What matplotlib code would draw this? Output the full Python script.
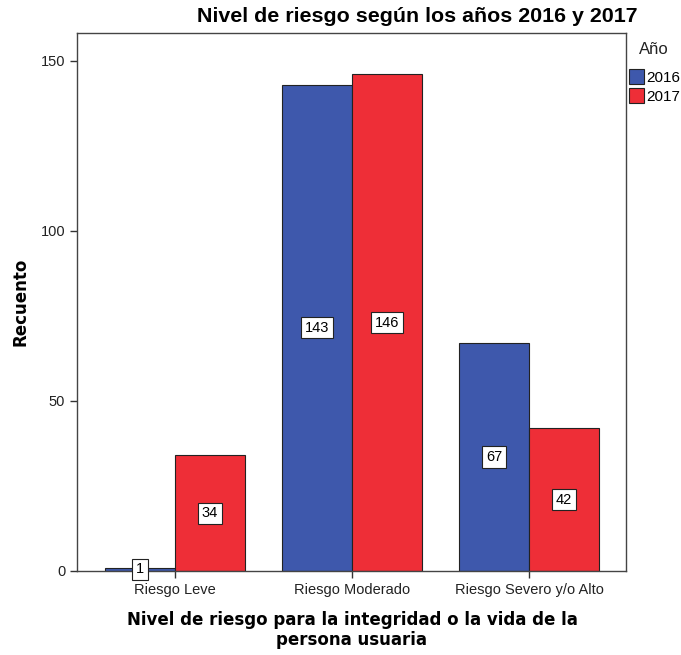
import matplotlib.pyplot as plt
import numpy as np

categorias = ['Riesgo Leve', 'Riesgo Moderado', 'Riesgo Severo y/o Alto']
anios = ['2016', '2017']
valores_2016 = [1, 143, 67]
valores_2017 = [34, 146, 42]
colores = ['#3E58AC', '#EE2E37']

plt.rcParams['font.family'] = ['Liberation Sans', 'DejaVu Sans']

fig = plt.figure(figsize=(6.81, 6.55), dpi=100)
ax = fig.add_axes([77/681, 1 - 571/655, (626-77)/681, (571-33)/655])

x = np.arange(len(categorias))
w = 0.395
for i, (vals, anio) in enumerate(zip([valores_2016, valores_2017], anios)):
    pos = x + (i - 0.5) * w
    bars = ax.bar(pos, vals, w, color=colores[i], edgecolor='#222222',
                  linewidth=0.8, label=anio)
    for b, v in zip(bars, vals):
        ax.text(b.get_x() + b.get_width()/2, v/2, str(v), ha='center', va='center',
                fontsize=10.5,
                bbox=dict(boxstyle='square,pad=0.25', fc='white', ec='#222222', lw=0.8))

ax.set_xlim(-0.554, 2.548)
ax.set_ylim(0, 158.2)
ax.set_yticks([0, 50, 100, 150])
ax.set_xticks(x)
ax.set_xticklabels(categorias)
ax.tick_params(axis='both', direction='out', length=5, width=1, labelsize=10.5,
               labelcolor='#222222', color='#333333')
for s in ax.spines.values():
    s.set_color('#444444')
    s.set_linewidth(1)

ax.set_ylabel('Recuento', fontsize=12, fontweight='bold', labelpad=8,
              family='DejaVu Sans')
fig.text(352/681, 1 - 630/655, 'Nivel de riesgo para la integridad o la vida de la\npersona usuaria',
         ha='center', va='center', fontsize=12, fontweight='bold', linespacing=1.1,
         family='DejaVu Sans')
fig.text(417/681, 1 - 17/655, 'Nivel de riesgo según los años 2016 y 2017',
         ha='center', va='center', fontsize=15.4, fontweight='bold')

fig.text(654/681, 1 - 49/655, 'Año', ha='center', va='center', fontsize=12,
         color='#222222')
leg = fig.legend(loc='upper left', bbox_to_anchor=(629/681, 1 - 69/655),
                 frameon=False, fontsize=11, handlelength=0.95,
                 handleheight=1.15, handletextpad=0.15, labelspacing=0.2, borderpad=0,
                 borderaxespad=0)
for h in leg.legend_handles:
    h.set_edgecolor('#222222')

fig.savefig('out.png', dpi=100)
